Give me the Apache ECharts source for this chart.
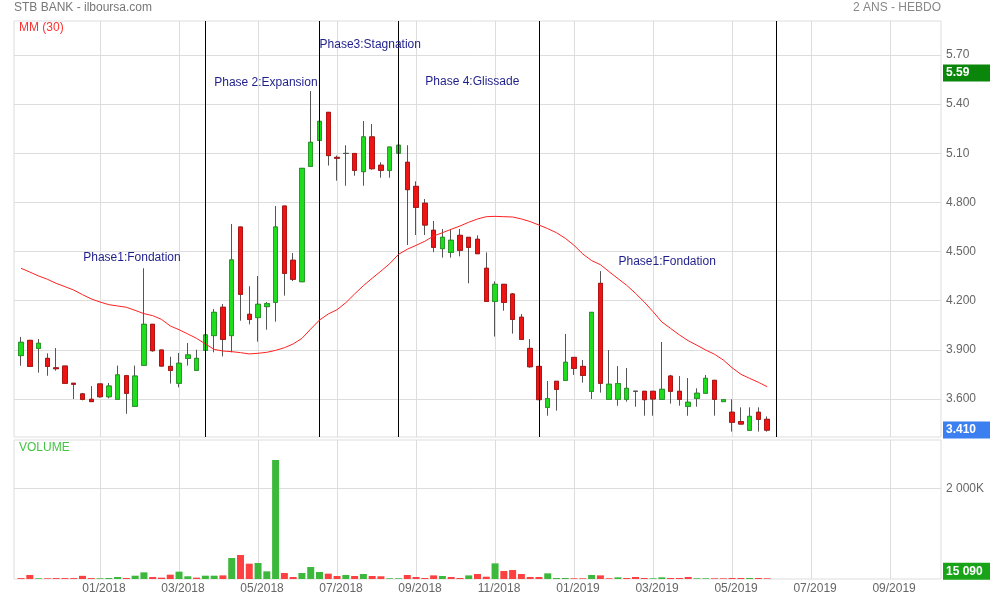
<!DOCTYPE html>
<html><head><meta charset="utf-8">
<script src="https://cdn.jsdelivr.net/npm/echarts@6/dist/echarts.min.js"></script>
<style>html,body{margin:0;padding:0;background:#fff}#c{width:990px;height:600px}</style>
</head><body><div id="c"></div>
<script>
// ---- data (weekly, index 0 = first week shown) ----
const OPEN = [3.865,3.958,3.909,3.848,3.790,3.801,3.696,3.631,3.598,3.692,
3.614,3.598,3.742,3.555,3.806,4.056,3.899,3.799,3.696,3.848,
3.775,3.897,3.987,4.160,3.987,4.650,4.117,4.097,4.164,4.190,
4.778,4.447,4.316,5.020,5.179,5.350,5.075,5.099,5.099,4.988,
5.200,5.027,4.996,5.101,5.045,4.898,4.795,4.630,4.518,4.495,
4.599,4.587,4.575,4.398,4.196,4.300,4.241,4.099,3.909,3.799,
3.549,3.708,3.714,3.854,3.799,3.647,4.306,3.598,3.598,3.598,
3.647,3.647,3.647,3.598,3.740,3.647,3.555,3.604,3.635,3.714,
3.584,3.519,3.462,3.409,3.519,3.476];
const CLOSE = [3.946,3.799,3.940,3.799,3.785,3.696,3.690,3.598,3.584,3.614,
3.679,3.747,3.635,3.740,4.056,3.895,3.801,3.775,3.818,3.869,
3.848,3.991,4.129,3.964,4.449,4.239,4.086,4.178,4.182,4.650,
4.367,4.331,5.008,5.167,5.295,5.086,5.070,5.099,4.996,5.200,
5.006,4.996,5.138,5.149,4.878,4.770,4.662,4.526,4.587,4.569,
4.508,4.526,4.487,4.196,4.300,4.190,4.086,3.964,3.797,3.596,
3.602,3.659,3.824,3.787,3.744,4.129,3.696,3.690,3.694,3.665,
3.647,3.596,3.600,3.659,3.647,3.598,3.580,3.635,3.726,3.598,
3.596,3.458,3.447,3.494,3.476,3.410];
const LOW = [3.803,3.799,3.761,3.742,3.773,3.696,3.600,3.592,3.584,3.608,
3.604,3.598,3.510,3.555,3.806,3.889,3.801,3.694,3.671,3.804,
3.775,3.897,3.885,3.860,3.885,4.078,4.056,3.950,4.023,4.072,
4.231,4.320,4.316,5.020,5.179,5.025,4.933,4.902,4.963,4.902,
5.000,4.951,4.951,5.101,4.540,4.601,4.601,4.497,4.463,4.463,
4.471,4.306,4.487,4.196,3.981,4.139,3.999,3.964,3.791,3.596,
3.498,3.529,3.714,3.747,3.700,3.600,3.639,3.598,3.559,3.584,
3.553,3.498,3.498,3.598,3.572,3.559,3.498,3.553,3.635,3.498,
3.584,3.401,3.447,3.409,3.401,3.401];
const HIGH = [3.979,3.958,3.966,3.879,3.911,3.801,3.696,3.637,3.679,3.692,
3.698,3.804,3.747,3.804,4.398,4.056,3.899,3.858,3.881,3.942,
3.901,3.991,4.149,4.180,4.668,4.650,4.288,4.351,4.192,4.778,
4.778,4.491,5.008,5.480,5.295,5.350,5.086,5.149,5.099,5.297,
5.279,5.045,5.138,5.149,5.149,4.929,4.821,4.687,4.638,4.638,
4.638,4.587,4.599,4.495,4.318,4.300,4.247,4.119,3.966,3.799,
3.710,3.708,3.997,3.854,3.838,4.129,4.381,3.899,3.801,3.789,
3.647,3.647,3.647,3.948,3.747,3.740,3.728,3.665,3.747,3.714,
3.598,3.598,3.549,3.549,3.549,3.494];
const MA30 = [4.398,4.375,4.351,4.331,4.306,4.286,4.265,4.237,4.211,4.192,
4.176,4.168,4.160,4.141,4.121,4.109,4.086,4.046,4.023,3.997,
3.970,3.936,3.903,3.893,3.889,3.883,3.875,3.879,3.885,3.897,
3.913,3.936,3.970,4.027,4.082,4.119,4.145,4.188,4.241,4.292,
4.337,4.381,4.426,4.483,4.514,4.538,4.563,4.595,4.615,4.636,
4.656,4.679,4.699,4.713,4.715,4.713,4.711,4.699,4.683,4.662,
4.640,4.615,4.581,4.538,4.485,4.445,4.420,4.377,4.335,4.294,
4.245,4.192,4.133,4.070,4.031,3.991,3.956,3.928,3.899,3.873,
3.838,3.791,3.751,3.726,3.702,3.675];
const VOLUME = [20000,88000,15000,15000,20000,20000,20000,70000,20000,15000,
22000,44000,22000,73000,147000,44000,30000,95000,162000,60000,
30000,73000,73000,80000,463000,529000,338000,353000,169000,2624000,
132000,44000,132000,265000,154000,118000,66000,88000,66000,110000,
66000,60000,15000,15000,88000,44000,22000,80000,66000,44000,
22000,80000,110000,51000,345000,176000,198000,110000,44000,44000,
125000,22000,22000,15000,15000,88000,80000,15000,37000,22000,
44000,22000,15000,37000,22000,22000,44000,15000,15000,15000,
15000,22000,22000,22000,22000,15090];
const FIRST_WEEK_UP = false;
const PERIOD_HIGH = 5.59;

const X_TICKS = [9,18,27,36,45,54,63,72,81,90,99];
const X_TICK_LABELS = ['01/2018','03/2018','05/2018','07/2018','09/2018','11/2018','01/2019','03/2019','05/2019','07/2019','09/2019'];
const PRICE_TICKS = [3.6,3.9,4.2,4.5,4.8,5.1,5.4,5.7];
const PRICE_TICK_LABELS = ['3.600','3.900','4.200','4.500','4.800','5.10','5.40','5.70'];
const VOLUME_TICKS = [2000000];
const VOLUME_TICK_LABELS = ['2 000K'];

const PHASE_BOUNDARIES = [21,34,43,59,86];
const PHASE_LABELS = ['Phase1:Fondation','Phase 2:Expansion','Phase3:Stagnation','Phase 4:Glissade','Phase1:Fondation'];
const PHASE_LABEL_X = [7.03,21.95,33.95,46.0,68.0];
const PHASE_LABEL_Y = [4.465,5.531,5.765,5.537,4.438];

// ---- chart ----
const FONT = '"Liberation Sans", Arial, Helvetica, sans-serif';
const UP = '#1ddd1d', DOWN = '#ee1414';
const UP_BORDER = '#2a9a2a', DOWN_BORDER = '#b01515', WICK = '#555';
const VOL_UP = '#3cb83c', VOL_DOWN = '#ff4040';
const N = CLOSE.length;

const candleData = OPEN.map((o,i)=>[i,o,CLOSE[i],LOW[i],HIGH[i]]);
const bodyData = OPEN.map((o,i)=>[i,o,CLOSE[i],Math.min(o,CLOSE[i]),Math.max(o,CLOSE[i])]);
const maData = MA30.map((v,i)=>[i,v]);
const volData = VOLUME.map((v,i)=>{
  const up = i===0 ? FIRST_WEEK_UP : CLOSE[i] > CLOSE[i-1];
  return {value:[i,v], itemStyle:{color: up ? VOL_UP : VOL_DOWN}};
});
function pick(ticks, labels, v){
  for (let k=0;k<ticks.length;k++) if (Math.abs(ticks[k]-v) < 1e-6*Math.max(1,Math.abs(v))) return labels[k];
  return '';
}
function fmtThousands(v){ return String(Math.round(v)).replace(/\B(?=(\d{3})+(?!\d))/g,' '); }

const boxLabel = (text, bg, offset) => ({
  show:true, position:'end', distance:2, formatter:text, color:'#fff', fontWeight:'bold',
  fontSize:12, fontFamily:FONT, backgroundColor:bg, padding:[2,3,2,3], width:41, lineHeight:13,
  offset: offset || [0,0]
});
const titleStyle = (c)=>({fontSize:12, fontWeight:'normal', color:c, fontFamily:FONT});

const X_MIN = -0.8, X_MAX = 104.8;
const option = {
  animation:false,
  textStyle:{fontFamily:FONT},
  title:[
    {text:'STB BANK - ilboursa.com', left:14, top:2, padding:0, textStyle:titleStyle('#777')},
    {text:'2 ANS - HEBDO', right:49, top:2, padding:0, textStyle:titleStyle('#888')},
    {text:'MM (30)', left:19, top:22, padding:0, textStyle:titleStyle('#ff3030')},
    {text:'VOLUME', left:19, top:442, padding:0, textStyle:titleStyle('#44c444')}
  ],
  grid:[
    {left:14, right:49, top:21, height:416, show:true, borderColor:'#ddd', borderWidth:1},
    {left:14, right:49, top:440, height:139, show:true, borderColor:'#ddd', borderWidth:1}
  ],
  xAxis:[
    {type:'value', gridIndex:0, min:X_MIN, max:X_MAX,
     axisLine:{show:false}, axisTick:{show:false, customValues:X_TICKS},
     axisLabel:{show:false, customValues:X_TICKS},
     splitLine:{show:true, lineStyle:{color:'#ddd', width:1}}},
    {type:'value', gridIndex:1, min:X_MIN, max:X_MAX,
     axisLine:{show:false}, axisTick:{show:false, customValues:X_TICKS},
     axisLabel:{show:true, customValues:X_TICKS, formatter:v=>pick(X_TICKS,X_TICK_LABELS,v),
       color:'#666', fontSize:12, margin:4, padding:[0,0,0,8], fontFamily:FONT},
     splitLine:{show:true, lineStyle:{color:'#ddd', width:1}}}
  ],
  yAxis:[
    {type:'value', gridIndex:0, position:'right', min:3.368, max:5.9076, scale:true,
     axisLine:{show:false}, axisTick:{show:false, customValues:PRICE_TICKS},
     axisLabel:{customValues:PRICE_TICKS, formatter:v=>pick(PRICE_TICKS,PRICE_TICK_LABELS,v),
       color:'#666', fontSize:12, margin:5, padding:[0,0,4,0], fontFamily:FONT},
     splitLine:{show:true, lineStyle:{color:'#ddd', width:1}}},
    {type:'value', gridIndex:1, position:'right', min:0, max:3065000,
     axisLine:{show:false}, axisTick:{show:false, customValues:VOLUME_TICKS},
     axisLabel:{customValues:VOLUME_TICKS, formatter:v=>pick(VOLUME_TICKS,VOLUME_TICK_LABELS,v),
       color:'#666', fontSize:12, margin:5, padding:[0,0,4,0], fontFamily:FONT},
     splitLine:{show:true, lineStyle:{color:'#ddd', width:1}}}
  ],
  series:[
    {type:'candlestick', xAxisIndex:0, yAxisIndex:0, data:candleData, encode:{x:0, y:[1,2,3,4]},
     barWidth:5, z:3,
     itemStyle:{color:UP, color0:DOWN, borderColor:WICK, borderColor0:WICK, borderColorDoji:WICK, borderWidth:1},
     markLine:{silent:true, symbol:['none','none'], animation:false,
       data:[
         ...PHASE_BOUNDARIES.map(x=>({xAxis:x, lineStyle:{color:'#000', width:1, type:'solid'}, label:{show:false}})),
         {yAxis:PERIOD_HIGH, lineStyle:{color:'rgba(0,0,0,0)', width:0}, label:boxLabel(PERIOD_HIGH.toFixed(2), '#0a870a')},
         {yAxis:CLOSE[N-1], lineStyle:{color:'rgba(0,0,0,0)', width:0}, label:boxLabel(CLOSE[N-1].toFixed(3), '#3b7ff0')}
       ]},
     markPoint:{silent:true, symbol:'circle', symbolSize:1, animation:false,
       itemStyle:{color:'rgba(0,0,0,0)'},
       data:PHASE_LABELS.map((t,k)=>({coord:[PHASE_LABEL_X[k], PHASE_LABEL_Y[k]], name:t,
         label:{show:true, position:'right', distance:0, formatter:t, color:'#1f1f8c', fontSize:12, fontFamily:FONT}}))}
    },
    {type:'candlestick', xAxisIndex:0, yAxisIndex:0, data:bodyData, encode:{x:0, y:[1,2,3,4]},
     barWidth:5, z:4, silent:true,
     itemStyle:{color:UP, color0:DOWN, borderColor:UP_BORDER, borderColor0:DOWN_BORDER, borderColorDoji:WICK, borderWidth:1}},
    {type:'line', xAxisIndex:0, yAxisIndex:0, data:maData, symbol:'none', z:5,
     lineStyle:{color:'#ff2020', width:1}},
    {type:'bar', xAxisIndex:1, yAxisIndex:1, data:volData, barWidth:7,
     markLine:{silent:true, symbol:['none','none'], animation:false,
       data:[{yAxis:VOLUME[N-1], lineStyle:{color:'rgba(0,0,0,0)', width:0},
         label:boxLabel(fmtThousands(VOLUME[N-1]), '#19a319', [0,-7])}]}}
  ]
};
const chart = echarts.init(document.getElementById('c'), null, {renderer:'canvas'});
chart.setOption(option);
</script></body></html>
